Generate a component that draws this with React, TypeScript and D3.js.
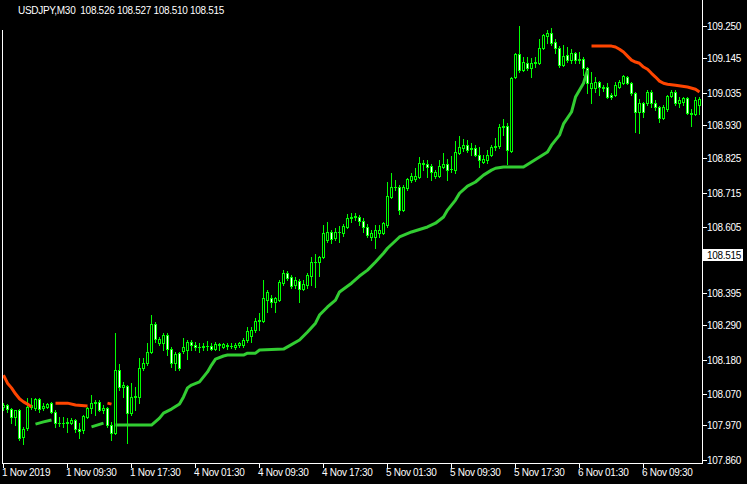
import * as d3 from "d3";

// USDJPY M30 candles, [open, high, low, close], one array per trading day
const nov1: number[][] = [
  [108.029, 108.041, 108.019, 108.035], [108.035, 108.038, 108.013, 108.022], [108.022, 108.025, 107.977, 107.997],
  [107.997, 108.019, 107.971, 108.019], [108.019, 108.022, 107.923, 107.929], [107.933, 107.965, 107.910, 107.958],
  [107.961, 108.057, 107.955, 108.029], [108.029, 108.057, 108.022, 108.035], [108.025, 108.057, 108.019, 108.054],
  [108.054, 108.057, 108.013, 108.022], [108.025, 108.041, 108.019, 108.032], [108.029, 108.041, 108.025, 108.038],
  [108.041, 108.045, 108.009, 108.013], [108.013, 108.019, 107.965, 107.977], [107.977, 107.997, 107.968, 107.976],
  [107.976, 107.997, 107.965, 107.977], [107.977, 107.993, 107.949, 107.981], [107.979, 107.993, 107.974, 107.987],
  [107.987, 107.990, 107.949, 107.958], [107.958, 107.977, 107.929, 107.952], [107.955, 108.003, 107.945, 108.000],
  [107.997, 108.029, 107.993, 108.025], [108.025, 108.067, 108.009, 108.041], [108.041, 108.051, 108.003, 108.045],
  [108.045, 108.051, 108.016, 108.019], [108.019, 108.035, 108.009, 108.025], [108.025, 108.029, 107.965, 107.971],
  [107.971, 107.981, 107.923, 107.945], [107.945, 108.265, 107.942, 108.147], [108.147, 108.166, 108.083, 108.093],
  [108.093, 108.109, 108.061, 108.099], [108.096, 108.099, 107.913, 108.009], [108.009, 108.105, 108.003, 108.061],
  [108.061, 108.093, 108.019, 108.064], [108.061, 108.185, 108.041, 108.153], [108.153, 108.185, 108.147, 108.169],
  [108.169, 108.233, 108.163, 108.205], [108.205, 108.323, 108.201, 108.294], [108.294, 108.301, 108.237, 108.246],
  [108.233, 108.253, 108.227, 108.246], [108.233, 108.265, 108.211, 108.259], [108.259, 108.265, 108.195, 108.214],
  [108.214, 108.221, 108.157, 108.169], [108.169, 108.205, 108.147, 108.198], [108.201, 108.205, 108.147, 108.153],
];

const nov4: number[][] = [
  [108.208, 108.249, 108.201, 108.221], [108.211, 108.243, 108.182, 108.237], [108.237, 108.243, 108.211, 108.227],
  [108.227, 108.237, 108.211, 108.221], [108.221, 108.233, 108.205, 108.221], [108.221, 108.233, 108.211, 108.224],
  [108.224, 108.240, 108.211, 108.225], [108.224, 108.233, 108.211, 108.214], [108.214, 108.237, 108.211, 108.230],
  [108.230, 108.233, 108.211, 108.227], [108.221, 108.233, 108.217, 108.230], [108.227, 108.233, 108.214, 108.224],
  [108.224, 108.233, 108.217, 108.224], [108.221, 108.233, 108.214, 108.227], [108.227, 108.237, 108.221, 108.233],
  [108.227, 108.249, 108.221, 108.243], [108.243, 108.285, 108.237, 108.272], [108.256, 108.285, 108.237, 108.275],
  [108.275, 108.313, 108.269, 108.304], [108.304, 108.329, 108.275, 108.307], [108.304, 108.435, 108.301, 108.377],
  [108.371, 108.403, 108.333, 108.397], [108.377, 108.387, 108.349, 108.365], [108.365, 108.381, 108.333, 108.377],
  [108.371, 108.435, 108.368, 108.429], [108.425, 108.467, 108.419, 108.457], [108.457, 108.464, 108.435, 108.441],
  [108.445, 108.451, 108.409, 108.416], [108.419, 108.445, 108.409, 108.435], [108.432, 108.438, 108.365, 108.406],
  [108.406, 108.435, 108.403, 108.422], [108.419, 108.457, 108.409, 108.451], [108.448, 108.509, 108.419, 108.493],
  [108.493, 108.518, 108.413, 108.493], [108.493, 108.512, 108.448, 108.509], [108.509, 108.611, 108.505, 108.585],
  [108.563, 108.621, 108.557, 108.589], [108.589, 108.595, 108.553, 108.566], [108.569, 108.601, 108.563, 108.589],
  [108.589, 108.608, 108.557, 108.589], [108.585, 108.614, 108.576, 108.608], [108.605, 108.646, 108.601, 108.633],
  [108.633, 108.649, 108.621, 108.637], [108.637, 108.649, 108.627, 108.640], [108.637, 108.643, 108.611, 108.624],
  [108.624, 108.633, 108.589, 108.605], [108.605, 108.614, 108.573, 108.579], [108.573, 108.595, 108.563, 108.585],
];

const nov5: number[][] = [
  [108.573, 108.611, 108.537, 108.595], [108.585, 108.611, 108.573, 108.595], [108.585, 108.621, 108.582, 108.617],
  [108.611, 108.749, 108.605, 108.704], [108.701, 108.777, 108.697, 108.733], [108.733, 108.755, 108.723, 108.733],
  [108.733, 108.739, 108.646, 108.659], [108.659, 108.739, 108.656, 108.733], [108.729, 108.761, 108.723, 108.758],
  [108.755, 108.777, 108.749, 108.768], [108.758, 108.793, 108.752, 108.768], [108.765, 108.829, 108.761, 108.809],
  [108.806, 108.819, 108.787, 108.809], [108.806, 108.819, 108.765, 108.797], [108.800, 108.806, 108.755, 108.781],
  [108.768, 108.787, 108.761, 108.781], [108.768, 108.819, 108.765, 108.800], [108.797, 108.841, 108.793, 108.806],
  [108.806, 108.822, 108.755, 108.787], [108.790, 108.832, 108.781, 108.790], [108.787, 108.880, 108.777, 108.845],
  [108.841, 108.896, 108.838, 108.861], [108.857, 108.886, 108.848, 108.867], [108.867, 108.883, 108.845, 108.851],
  [108.854, 108.873, 108.835, 108.857], [108.857, 108.867, 108.832, 108.835], [108.835, 108.861, 108.797, 108.819],
  [108.813, 108.835, 108.809, 108.822], [108.819, 108.851, 108.809, 108.835], [108.835, 108.867, 108.832, 108.861],
  [108.861, 108.889, 108.851, 108.864], [108.864, 108.934, 108.857, 108.925], [108.925, 108.950, 108.899, 108.928],
  [108.928, 108.937, 108.806, 108.851], [108.848, 109.085, 108.845, 109.081], [109.085, 109.161, 109.081, 109.158],
  [109.158, 109.248, 109.101, 109.107], [109.107, 109.149, 109.104, 109.133], [109.129, 109.149, 109.107, 109.113],
  [109.113, 109.145, 109.085, 109.129], [109.129, 109.149, 109.117, 109.133], [109.129, 109.206, 109.126, 109.177],
  [109.177, 109.222, 109.174, 109.219], [109.216, 109.235, 109.193, 109.226], [109.226, 109.241, 109.187, 109.193],
  [109.197, 109.206, 109.161, 109.177], [109.177, 109.184, 109.117, 109.123], [109.123, 109.187, 109.120, 109.152],
];

const nov6: number[][] = [
  [109.155, 109.181, 109.133, 109.139], [109.139, 109.174, 109.129, 109.161], [109.161, 109.165, 109.129, 109.139],
  [109.142, 109.165, 109.129, 109.139], [109.142, 109.149, 109.091, 109.113], [109.113, 109.117, 109.033, 109.065],
  [109.049, 109.101, 109.001, 109.065], [109.049, 109.085, 109.037, 109.069], [109.069, 109.072, 109.027, 109.053],
  [109.053, 109.059, 109.040, 109.049], [109.053, 109.065, 109.017, 109.021], [109.027, 109.033, 109.014, 109.021],
  [109.027, 109.069, 109.024, 109.059], [109.053, 109.075, 109.049, 109.069], [109.065, 109.091, 109.062, 109.088],
  [109.085, 109.088, 109.062, 109.065], [109.065, 109.069, 109.027, 109.033], [109.033, 109.037, 108.909, 108.973],
  [108.973, 109.014, 108.905, 109.001], [109.001, 109.005, 108.957, 108.973], [109.001, 109.043, 108.995, 109.037],
  [109.037, 109.043, 108.989, 109.001], [109.001, 109.011, 108.979, 108.989], [108.989, 108.992, 108.941, 108.953],
  [108.953, 108.995, 108.950, 108.989], [108.982, 109.027, 108.976, 109.024], [109.024, 109.043, 109.021, 109.037],
  [109.037, 109.043, 108.995, 109.001], [109.001, 109.021, 108.989, 109.011], [109.005, 109.021, 108.995, 109.017],
  [109.017, 109.021, 108.966, 108.969], [108.969, 108.982, 108.928, 108.966], [108.966, 109.021, 108.963, 109.011],
  [108.995, 109.021, 108.966, 109.014],
];

// trailing-stop indicator: [bar index, price], broken into segments
const upSegments: number[][][] = [
  [[8, 107.974], [10, 107.981], [12, 107.987]],
  [[22, 107.965], [25, 107.977]],
  [
    [28, 107.971], [37, 107.971], [39, 107.993], [40, 108.009], [42, 108.022], [44, 108.038], [45, 108.061],
    [46, 108.090], [47, 108.099], [49, 108.109], [50, 108.125], [51, 108.141], [52, 108.163], [53, 108.182],
    [55, 108.192], [56, 108.195], [60, 108.195], [61, 108.201], [63, 108.201], [64, 108.211], [70, 108.214],
    [71, 108.221], [74, 108.243], [76, 108.269], [78, 108.297], [79, 108.323], [81, 108.349], [83, 108.371],
    [84, 108.397], [87, 108.425], [89, 108.448], [91, 108.467], [93, 108.493], [95, 108.521], [96, 108.537],
    [99, 108.573], [102, 108.589], [106, 108.605], [108, 108.617], [110, 108.637], [111, 108.659], [113, 108.691],
    [114, 108.713], [116, 108.736], [118, 108.749], [120, 108.771], [122, 108.787], [123, 108.793], [125, 108.797],
    [130, 108.797], [132, 108.813], [134, 108.829], [136, 108.845], [137, 108.867], [139, 108.899], [140, 108.935],
    [142, 108.973], [143, 109.021], [145, 109.065], [146, 109.107],
  ],
];

const downSegments: number[][][] = [
  [[0, 108.131], [1, 108.105], [2, 108.090], [3, 108.071], [4, 108.055], [5, 108.045], [6, 108.038], [7, 108.029]],
  [[13, 108.041], [16, 108.041], [18, 108.035], [21, 108.032]],
  [[26, 108.041], [27, 108.038]],
  [
    [147, 109.184], [152, 109.184], [153, 109.181], [154, 109.174], [155, 109.165], [156, 109.152], [157, 109.139],
    [158, 109.133], [159, 109.129], [160, 109.117], [161, 109.110], [162, 109.097], [163, 109.085], [164, 109.072],
    [165, 109.065], [166, 109.062], [168, 109.059], [171, 109.053], [173, 109.046], [174, 109.037],
  ],
];

const priceTicks = [109.25, 109.145, 109.035, 108.93, 108.825, 108.715, 108.605, 108.395, 108.29, 108.18, 108.07, 107.97, 107.86];
const timeTickBars = [0, 16, 32, 48, 64, 80, 96, 112, 128, 144, 160];
const timeTickLabels = [
  "1 Nov 2019", "1 Nov 09:30", "1 Nov 17:30", "4 Nov 01:30", "4 Nov 09:30", "4 Nov 17:30",
  "5 Nov 01:30", "5 Nov 09:30", "5 Nov 17:30", "6 Nov 01:30", "6 Nov 09:30",
];
const headerText = "USDJPY,M30  108.526 108.527 108.510 108.515";
const lastPrice = 108.515;

const W = 747;
const H = 484;
const PLOT_RIGHT = 702;
const PLOT_BOTTOM = 463;
const FONT = "'Liberation Sans', Arial, sans-serif";
const CANDLE = "#00ff00";
const UP_COLOR = "#32cd32";
const DOWN_COLOR = "#ff4500";

export default function App() {
  const bars = [...nov1, ...nov4, ...nov5, ...nov6];

  const x = d3.scaleLinear().domain([0, bars.length - 1]).range([3, 699]);
  const y = d3.scaleLinear().domain([107.86, 109.25]).range([459.7, 25.5]);

  const line = d3
    .line<number[]>()
    .x((d) => x(d[0]) + 0.5)
    .y((d) => y(d[1]));

  return (
    <svg
      width={W}
      height={H}
      style={{ position: "absolute", left: 0, top: 0, display: "block" }}
      fontFamily={FONT}
    >
      <rect width={W} height={H} fill="#000" />

      {/* candles */}
      <g shapeRendering="crispEdges">
        {bars.map(([o, h, l, c], i) => {
          const cx = Math.round(x(i));
          const hiY = Math.round(y(h));
          const loY = Math.round(y(l));
          const top = Math.round(y(Math.max(o, c)));
          const bot = Math.round(y(Math.min(o, c)));
          const bull = c >= o;
          return (
            <g key={i}>
              <rect x={cx} y={hiY} width={1} height={loY - hiY + 1} fill={CANDLE} />
              <rect x={cx - 1} y={top} width={3} height={bot - top + 1} fill={CANDLE} />
              {bot - top >= 2 && (
                <rect x={cx} y={top + 1} width={1} height={bot - top - 1} fill={bull ? "#000" : "#fff"} />
              )}
            </g>
          );
        })}
      </g>

      {/* indicator lines */}
      {upSegments.map((seg, i) => (
        <path key={"u" + i} d={line(seg) ?? ""} fill="none" stroke={UP_COLOR} strokeWidth={3} strokeLinejoin="round" />
      ))}
      {downSegments.map((seg, i) => (
        <path key={"d" + i} d={line(seg) ?? ""} fill="none" stroke={DOWN_COLOR} strokeWidth={3} strokeLinejoin="round" />
      ))}

      {/* frame */}
      <g shapeRendering="crispEdges" fill="#fff">
        <rect x={2} y={30} width={1} height={PLOT_BOTTOM - 30} />
        <rect x={2} y={PLOT_BOTTOM} width={PLOT_RIGHT - 1} height={1} />
        <rect x={PLOT_RIGHT} y={0} width={1} height={PLOT_BOTTOM + 1} />
      </g>

      {/* price axis */}
      <g fill="#fff" fontSize={10} letterSpacing={-0.3}>
        {priceTicks.map((p) => {
          const ty = Math.round(y(p));
          return (
            <g key={p}>
              <rect x={PLOT_RIGHT + 1} y={ty} width={4} height={1} shapeRendering="crispEdges" />
              <text x={707} y={ty + 4}>{p.toFixed(3)}</text>
            </g>
          );
        })}
      </g>

      {/* last price marker */}
      <g>
        <rect x={703} y={Math.round(y(lastPrice)) - 6} width={40} height={12} fill="#fff" shapeRendering="crispEdges" />
        <text x={707} y={Math.round(y(lastPrice)) + 4} fontSize={10} letterSpacing={-0.3} fill="#000">
          {lastPrice.toFixed(3)}
        </text>
      </g>

      {/* time axis */}
      <g fill="#fff" fontSize={10} letterSpacing={-0.3}>
        {timeTickBars.map((b, i) => {
          const tx = Math.round(x(b));
          return (
            <g key={b}>
              <rect x={tx} y={PLOT_BOTTOM + 1} width={1} height={4} shapeRendering="crispEdges" />
              <text x={tx - 1} y={476}>{timeTickLabels[i]}</text>
            </g>
          );
        })}
      </g>

      <text x={18} y={14} fill="#fff" fontSize={10} letterSpacing={-0.3} style={{ whiteSpace: "pre" }}>
        {headerText}
      </text>
    </svg>
  );
}
